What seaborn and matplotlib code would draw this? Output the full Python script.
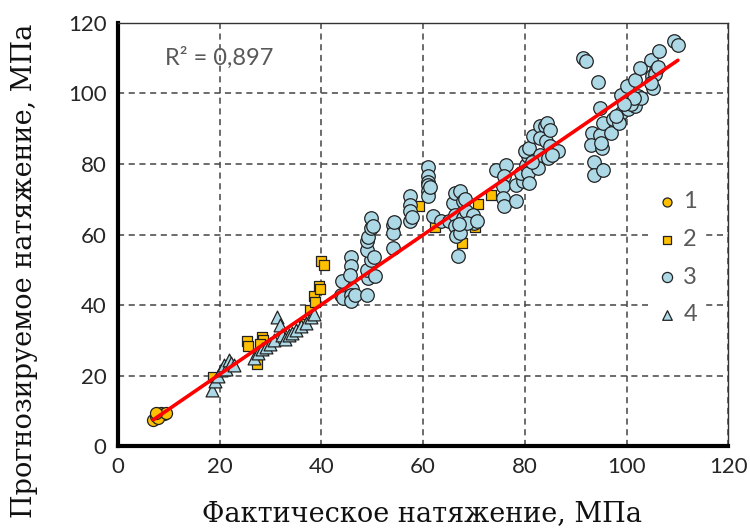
import numpy as np
import pandas as pd
import matplotlib
matplotlib.use("Agg")
import matplotlib.pyplot as plt
import seaborn as sns

# ---- data ----
x1 = [7.0, 7.5, 8.0, 8.5, 9.0, 8.0, 9.5, 7.5]
y1 = [7.5, 8.5, 9.0, 9.5, 9.0, 8.0, 9.5, 9.5]

x2 = [18.8, 25.5, 25.6, 27.3, 28.3, 28.5, 28.0, 36.6, 37.7, 38.6, 38.8,
      39.5, 39.7, 40.0, 40.5, 59.3, 62.4, 67.7, 70.2, 70.9, 73.3]
y2 = [19.5, 29.8, 28.5, 23.3, 31.0, 30.0, 29.0, 34.6, 38.5, 42.5, 41.0,
      45.5, 44.5, 52.5, 51.5, 68.0, 62.0, 57.7, 62.0, 68.7, 71.2]

x3 = [44.0, 43.9, 44.3, 45.9, 45.9, 45.6, 46.0, 45.9, 45.9, 46.7,
      48.9, 49.2, 48.9, 49.8, 48.9, 48.9, 49.2, 49.8, 49.8, 50.2, 50.3, 50.5,
      54.1, 54.1, 54.1, 54.3,
      57.4, 57.4, 57.4, 57.4, 57.8,
      61.0, 61.0, 61.0, 61.0, 61.0, 61.0, 61.3, 61.9, 63.6,
      65.2, 65.9, 66.2, 67.2, 67.8, 66.2, 67.8, 68.5, 69.8, 70.1, 66.2, 66.5,
      66.9, 67.3, 68.2, 68.6, 70.6, 67.0,
      74.4, 76.4, 76.0, 75.7, 75.7, 76.0, 78.3, 78.3, 79.6, 79.3, 80.3, 80.6,
      80.0, 80.9, 80.6, 80.9,
      81.6, 82.9, 83.9, 84.4, 82.9, 84.2, 84.9, 86.5, 82.9, 82.6, 84.5, 84.9,
      85.3, 81.4,
      91.4, 92.1, 94.4, 94.7, 93.3, 93.1, 93.7, 93.6, 95.3, 95.2, 94.7, 95.3, 95.0,
      97.0, 97.3, 99.0, 98.6, 99.0, 100.0, 100.2, 101.6, 101.6, 102.6, 102.2,
      102.9, 100.9, 101.4, 99.5, 98.0,
      104.9, 106.3, 105.8, 105.1, 105.2, 105.7, 106.1, 109.4, 110.1, 104.8]
y3 = [46.9, 43.0, 42.0, 53.5, 51.0, 48.6, 44.5, 43.0, 41.2, 43.0,
      43.0, 47.7, 50.0, 52.9, 55.7, 58.1, 59.3, 61.8, 64.7, 62.5, 53.7, 48.3,
      62.8, 60.4, 56.2, 63.5,
      70.8, 68.5, 66.6, 63.7, 65.0,
      79.0, 76.5, 75.0, 74.1, 72.2, 70.8, 73.5, 65.2, 63.7,
      63.7, 68.9, 71.8, 72.2, 69.4, 65.6, 64.7, 66.6, 65.6, 63.3, 62.3, 59.5,
      53.8, 60.4, 70.0, 63.3, 63.8, 63.0,
      78.4, 79.8, 76.5, 73.7, 70.3, 68.0, 69.4, 74.1, 75.1, 77.4, 79.8, 82.2,
      83.6, 84.5, 77.4, 74.6,
      87.8, 90.7, 90.7, 91.5, 87.3, 86.4, 85.0, 83.6, 82.6, 78.8, 81.7, 89.5,
      82.5, 80.5,
      110.0, 109.3, 103.1, 95.8, 88.8, 85.5, 80.5, 77.0, 78.2, 84.5, 88.3, 91.5, 86.0,
      88.8, 92.6, 94.4, 91.6, 99.6, 102.0, 95.5, 96.3, 103.9, 107.2, 99.2,
      98.7, 96.9, 98.8, 97.0, 93.5,
      109.5, 111.9, 106.7, 104.8, 101.5, 105.6, 107.5, 114.7, 113.8, 103.0]

x4 = [18.6, 19.2, 19.8, 20.3, 20.8, 21.3, 21.8, 22.3, 22.8, 26.8, 27.6, 28.4,
      29.2, 30.0, 30.7, 31.3, 31.8, 32.3, 32.9, 33.6, 34.3, 35.1, 36.0, 37.0,
      38.0, 38.5]
y4 = [16.0, 18.5, 20.0, 21.5, 23.0, 22.0, 24.5, 23.5, 23.0, 25.0, 26.5, 27.5,
      28.0, 29.0, 30.0, 36.5, 34.5, 31.5, 30.5, 31.5, 32.0, 33.0, 34.0, 35.0,
      36.5, 37.5]

# linear trendline as printed in the source chart (slope, intercept)
trend_coef = [0.988, 0.6]

series_labels = ["1", "2", "3", "4"]
r2_text = "R² = 0,897"
xlabel = "Фактическое натяжение, МПа"
ylabel = "Прогнозируемое натяжение, МПа"
ticks = [0, 20, 40, 60, 80, 100, 120]

# ---- plot ----
sns.set_style("white")
plt.rcParams["font.family"] = ["Lato", "DejaVu Sans"]

fig = plt.figure(figsize=(7.5, 5.3), dpi=100)
ax = fig.add_axes([0.157, 0.158, 0.814, 0.799])

orange = "#FFC000"
blue = "#ADD8E6"
edge = "#222222"

ax.grid(True, which="major", linestyle=(0, (4, 3)), color="#444444", linewidth=1.1)
ax.set_axisbelow(True)

sns.scatterplot(x=x1, y=y1, ax=ax, marker="o", s=75, color=orange,
                edgecolor=edge, linewidth=0.9, label=series_labels[0], zorder=3)
sns.scatterplot(x=x2, y=y2, ax=ax, marker="s", s=60, color=orange,
                edgecolor=edge, linewidth=0.9, label=series_labels[1], zorder=3)
sns.scatterplot(x=x3, y=y3, ax=ax, marker="o", s=95, color=blue,
                edgecolor=edge, linewidth=0.9, label=series_labels[2], zorder=3)
sns.scatterplot(x=x4, y=y4, ax=ax, marker="^", s=85, color=blue,
                edgecolor=edge, linewidth=0.9, label=series_labels[3], zorder=3)

allx = np.array(x1 + x2 + x3 + x4)
line_x = np.array([allx.min(), allx.max()])
line_y = np.polyval(trend_coef, line_x)
sns.lineplot(x=line_x, y=line_y, ax=ax, color="#FF0000", linewidth=2.6,
             zorder=5, legend=False)

ax.set_xlim(0, 120)
ax.set_ylim(0, 120)
ax.set_xticks(ticks)
ax.set_yticks(ticks)
ax.tick_params(axis="both", length=0, labelsize=16, colors="#262626", pad=8)

for side in ["left", "bottom"]:
    ax.spines[side].set_linewidth(3)
    ax.spines[side].set_color("black")
for side in ["top", "right"]:
    ax.spines[side].set_linewidth(1)
    ax.spines[side].set_color("#333333")
    ax.spines[side].set_visible(True)

ax.set_xlabel(xlabel, family="DejaVu Serif", fontsize=19.5, color="#111111")
ax.set_ylabel(ylabel, family="DejaVu Serif", fontsize=19.5, color="#111111")
ax.xaxis.set_label_coords(0.498, -0.127)
ax.yaxis.set_label_coords(-0.13, 0.414)

ax.text(0.077, 0.917, r2_text, transform=ax.transAxes, fontsize=17,
        color="#595959", va="center", ha="left", zorder=6)

leg = ax.legend(loc="center right", bbox_to_anchor=(0.98, 0.444), frameon=True,
                framealpha=1, edgecolor="none", facecolor="white",
                fontsize=17, labelspacing=0.7, handletextpad=0.2,
                markerscale=0.75, borderpad=0.3, handlelength=1.0)
for t in leg.get_texts():
    t.set_color("#595959")
leg.set_zorder(7)

fig.savefig("out.png", dpi=100)
